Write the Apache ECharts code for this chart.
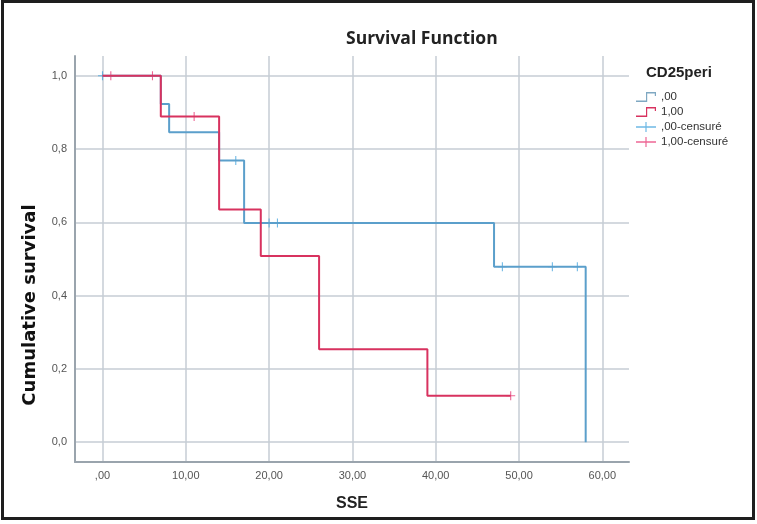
<!DOCTYPE html>
<html>
<head>
<meta charset="utf-8">
<script src="https://cdn.jsdelivr.net/npm/echarts@6/dist/echarts.min.js"></script>
<style>
    html, body { margin: 0; padding: 0; background: #fff; }
    #chart { width: 757px; height: 524px; }
</style>
</head>
<body>
<div id="chart"></div>
<script>
    // 生存曲线数据
    const grp0Times = [0, 7, 8, 14, 17, 47, 58]
    const grp0Surv = [1, 0.923, 0.846, 0.769, 0.598, 0.479, 0]
    const grp1Times = [0, 7, 14, 19, 26, 39, 49]
    const grp1Surv = [1, 0.889, 0.635, 0.508, 0.254, 0.127, 0.127]
    // 删失点
    const cens0Times = [0, 16, 20, 21, 48, 54, 57]
    const cens0Surv = [1, 0.769, 0.598, 0.598, 0.479, 0.479, 0.479]
    const cens1Times = [1, 6, 11, 49]
    const cens1Surv = [1, 1, 0.889, 0.127]
    const seriesNames = [',00', '1,00', ',00-censuré', '1,00-censuré']

    const blue = '#5b9fcb'
    const red = '#d8325f'
    const blueCens = '#4aa6dd'
    const redCens = '#e8407a'

    const stepIcon = 'path://M0,8.5 L10,8.5 L10,0 L20,0 L20,4 L18.8,4 L18.8,1.5 L11.2,1.5 L11.2,10 L0,10 Z'
    const crossIcon = 'path://M0,4.3 L20,4.3 L20,5.7 L0,5.7 Z M9.4,0 L10.6,0 L10.6,10 L9.4,10 Z'
    const censMark = 'path://M0,4 L10,4 L10,5 L0,5 Z M4.4,0 L5.6,0 L5.6,9 L4.4,9 Z'

    function pairs (xs, ys) {
        const out = []
        for (let i = 0; i < xs.length; i++) {
            out.push([xs[i], ys[i]])
        }
        return out
    }

    const fmtX = v => {
        if (Math.abs(v) < 1e-9) return ',00'
        return v.toFixed(2).replace('.', ',')
    }
    const fmtY = v => v.toFixed(1).replace('.', ',')

    const chart = echarts.init(document.getElementById('chart'))
    chart.setOption({
        animation: false,
        backgroundColor: '#fff',
        title: [{
            text: 'Survival Function',
            left: 341,
            top: 25,
            textStyle: { fontFamily: 'Open Sans', fontWeight: 'bold', fontSize: 17.5, color: '#222' }
        }, {
            text: 'CD25peri',
            left: 641,
            top: 60,
            textStyle: { fontFamily: 'Liberation Sans', fontWeight: 'bold', fontSize: 15, color: '#222' }
        }],
        legend: {
            orient: 'vertical',
            left: 631,
            top: 86,
            itemWidth: 28,
            itemHeight: 10,
            itemGap: 3,
            textStyle: { fontFamily: 'Liberation Sans', fontSize: 11.5, color: '#333', padding: [0, 0, 0, -4] },
            data: [
                { name: seriesNames[0], icon: stepIcon, itemStyle: { color: '#7fa8c2' } },
                { name: seriesNames[1], icon: stepIcon, itemStyle: { color: red } },
                { name: seriesNames[2], icon: crossIcon, itemStyle: { color: blueCens } },
                { name: seriesNames[3], icon: crossIcon, itemStyle: { color: redCens } }
            ]
        },
        grid: { left: 75, right: 128, top: 56, bottom: 62 },
        xAxis: {
            type: 'value',
            min: -3.3,
            max: 63.2,
            splitNumber: 6,
            name: 'SSE',
            nameLocation: 'middle',
            nameGap: 34,
            nameTextStyle: { fontFamily: 'Liberation Sans', fontWeight: 'bold', fontSize: 16, color: '#222' },
            axisLine: { onZero: false, lineStyle: { color: '#9aa4ad', width: 2 } },
            axisTick: { show: false },
            axisLabel: {
                margin: 8, showMinLabel: false, showMaxLabel: false,
                fontFamily: 'Liberation Sans', fontSize: 11, color: '#555', formatter: fmtX
            },
            splitLine: { show: true, showMinLine: false, showMaxLine: false, lineStyle: { color: '#c6cdd4', width: 1.5 } }
        },
        yAxis: {
            type: 'value',
            min: -0.054,
            max: 1.054,
            splitNumber: 5,
            axisLine: { show: true, onZero: false, lineStyle: { color: '#9aa4ad', width: 2 } },
            axisTick: { show: false },
            axisLabel: {
                margin: 8, showMinLabel: false, showMaxLabel: false,
                fontFamily: 'Liberation Sans', fontSize: 11, color: '#555', formatter: fmtY
            },
            splitLine: { show: true, showMinLine: false, showMaxLine: false, lineStyle: { color: '#c6cdd4', width: 1.5 } }
        },
        graphic: [{
            type: 'text',
            x: 30,
            y: 305,
            rotation: Math.PI / 2,
            style: {
                text: 'Cumulative survival',
                fontFamily: 'DejaVu Sans', fontWeight: 'bold', fontSize: 18, fill: '#111',
                align: 'center', verticalAlign: 'middle'
            }
        }, {
            type: 'rect',
            shape: { x: 2.5, y: 1.5, width: 751, height: 517 },
            style: { fill: 'none', stroke: '#1e1e1e', lineWidth: 3 },
            silent: true
        }],
        series: [{
            name: seriesNames[0],
            type: 'line',
            step: 'end',
            symbol: 'none',
            lineStyle: { color: blue, width: 2 },
            itemStyle: { color: blue },
            data: pairs(grp0Times, grp0Surv)
        }, {
            name: seriesNames[1],
            type: 'line',
            step: 'end',
            symbol: 'none',
            lineStyle: { color: red, width: 2 },
            itemStyle: { color: red },
            data: pairs(grp1Times, grp1Surv)
        }, {
            name: seriesNames[2],
            type: 'scatter',
            symbol: censMark,
            symbolSize: [9, 9],
            itemStyle: { color: blueCens },
            data: pairs(cens0Times, cens0Surv)
        }, {
            name: seriesNames[3],
            type: 'scatter',
            symbol: censMark,
            symbolSize: [9, 9],
            itemStyle: { color: redCens },
            data: pairs(cens1Times, cens1Surv)
        }]
    })
</script>
</body>
</html>
